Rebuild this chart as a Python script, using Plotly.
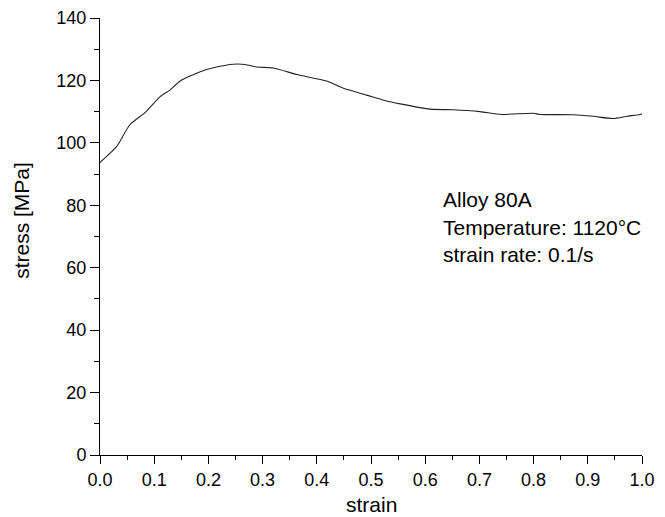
import plotly.graph_objects as go

strain = [0.0, 0.003, 0.031, 0.055, 0.083, 0.111, 0.129, 0.148, 0.185, 0.215, 0.246,
          0.268, 0.289, 0.32, 0.363, 0.418, 0.449, 0.492, 0.525, 0.554, 0.609, 0.652,
          0.701, 0.741, 0.799, 0.812, 0.873, 0.910, 0.947, 0.972, 0.996, 1.0]
stress = [93.7, 94.2, 98.9, 105.8, 109.7, 114.8, 116.9, 119.8, 122.8, 124.3, 125.2,
          125.1, 124.3, 124.0, 121.9, 119.8, 117.5, 115.3, 113.6, 112.5, 110.8, 110.6,
          110.0, 109.1, 109.5, 109.1, 109.0, 108.5, 107.8, 108.5, 109.1, 109.3]

x_ticks = [0.0, 0.1, 0.2, 0.3, 0.4, 0.5, 0.6, 0.7, 0.8, 0.9, 1.0]
y_ticks = [0, 20, 40, 60, 80, 100, 120, 140]
notes = ["Alloy 80A", "Temperature: 1120°C", "strain rate: 0.1/s"]
note_y = [81.9, 72.9, 64.2]

FONT = "Liberation Sans, Arial, Helvetica, sans-serif"

fig = go.Figure()
fig.add_trace(go.Scatter(x=strain, y=stress, mode="lines",
                         line=dict(color="#222222", width=1.1, shape="spline", smoothing=0.6),
                         showlegend=False, hoverinfo="skip"))

for t, yy in zip(notes, note_y):
    fig.add_annotation(x=0.630, y=yy, xref="x", yref="y", text=t, showarrow=False,
                       xanchor="left", yanchor="middle",
                       font=dict(family=FONT, size=21, color="black"))

# axis titles
fig.add_annotation(x=0.5, y=-0.114, xref="paper", yref="paper", text="strain",
                   showarrow=False, xanchor="center", yanchor="middle",
                   font=dict(family=FONT, size=21, color="black"))
fig.add_annotation(x=-0.144, y=0.538, xref="paper", yref="paper", text="stress [MPa]",
                   showarrow=False, textangle=-90, xanchor="center", yanchor="middle",
                   font=dict(family=FONT, size=21, color="black"))

fig.update_layout(
    width=657, height=509,
    margin=dict(l=92, r=23, t=10, b=62),
    paper_bgcolor="white", plot_bgcolor="white",
    font=dict(family=FONT, size=18, color="black"),
    xaxis=dict(range=[0, 1], tickvals=x_ticks, ticktext=[f"{v:.1f}" for v in x_ticks],
               ticks="outside", ticklen=8, tickwidth=1, tickcolor="black",
               showline=True, linecolor="black", linewidth=1, showgrid=False, zeroline=False,
               minor=dict(ticks="outside", ticklen=4, tickwidth=1, tickcolor="black", dtick=0.05),
               automargin=False, ticklabeloverflow="allow", tickfont=dict(size=18)),
    yaxis=dict(range=[0, 140], tickvals=y_ticks,
               ticks="outside", ticklen=9, tickwidth=1, tickcolor="black",
               showline=True, linecolor="black", linewidth=1, showgrid=False, zeroline=False,
               minor=dict(ticks="outside", ticklen=5, tickwidth=1, tickcolor="black", dtick=10),
               automargin=False, ticklabeloverflow="allow", tickfont=dict(size=18)),
)

fig.write_html("out.html")
